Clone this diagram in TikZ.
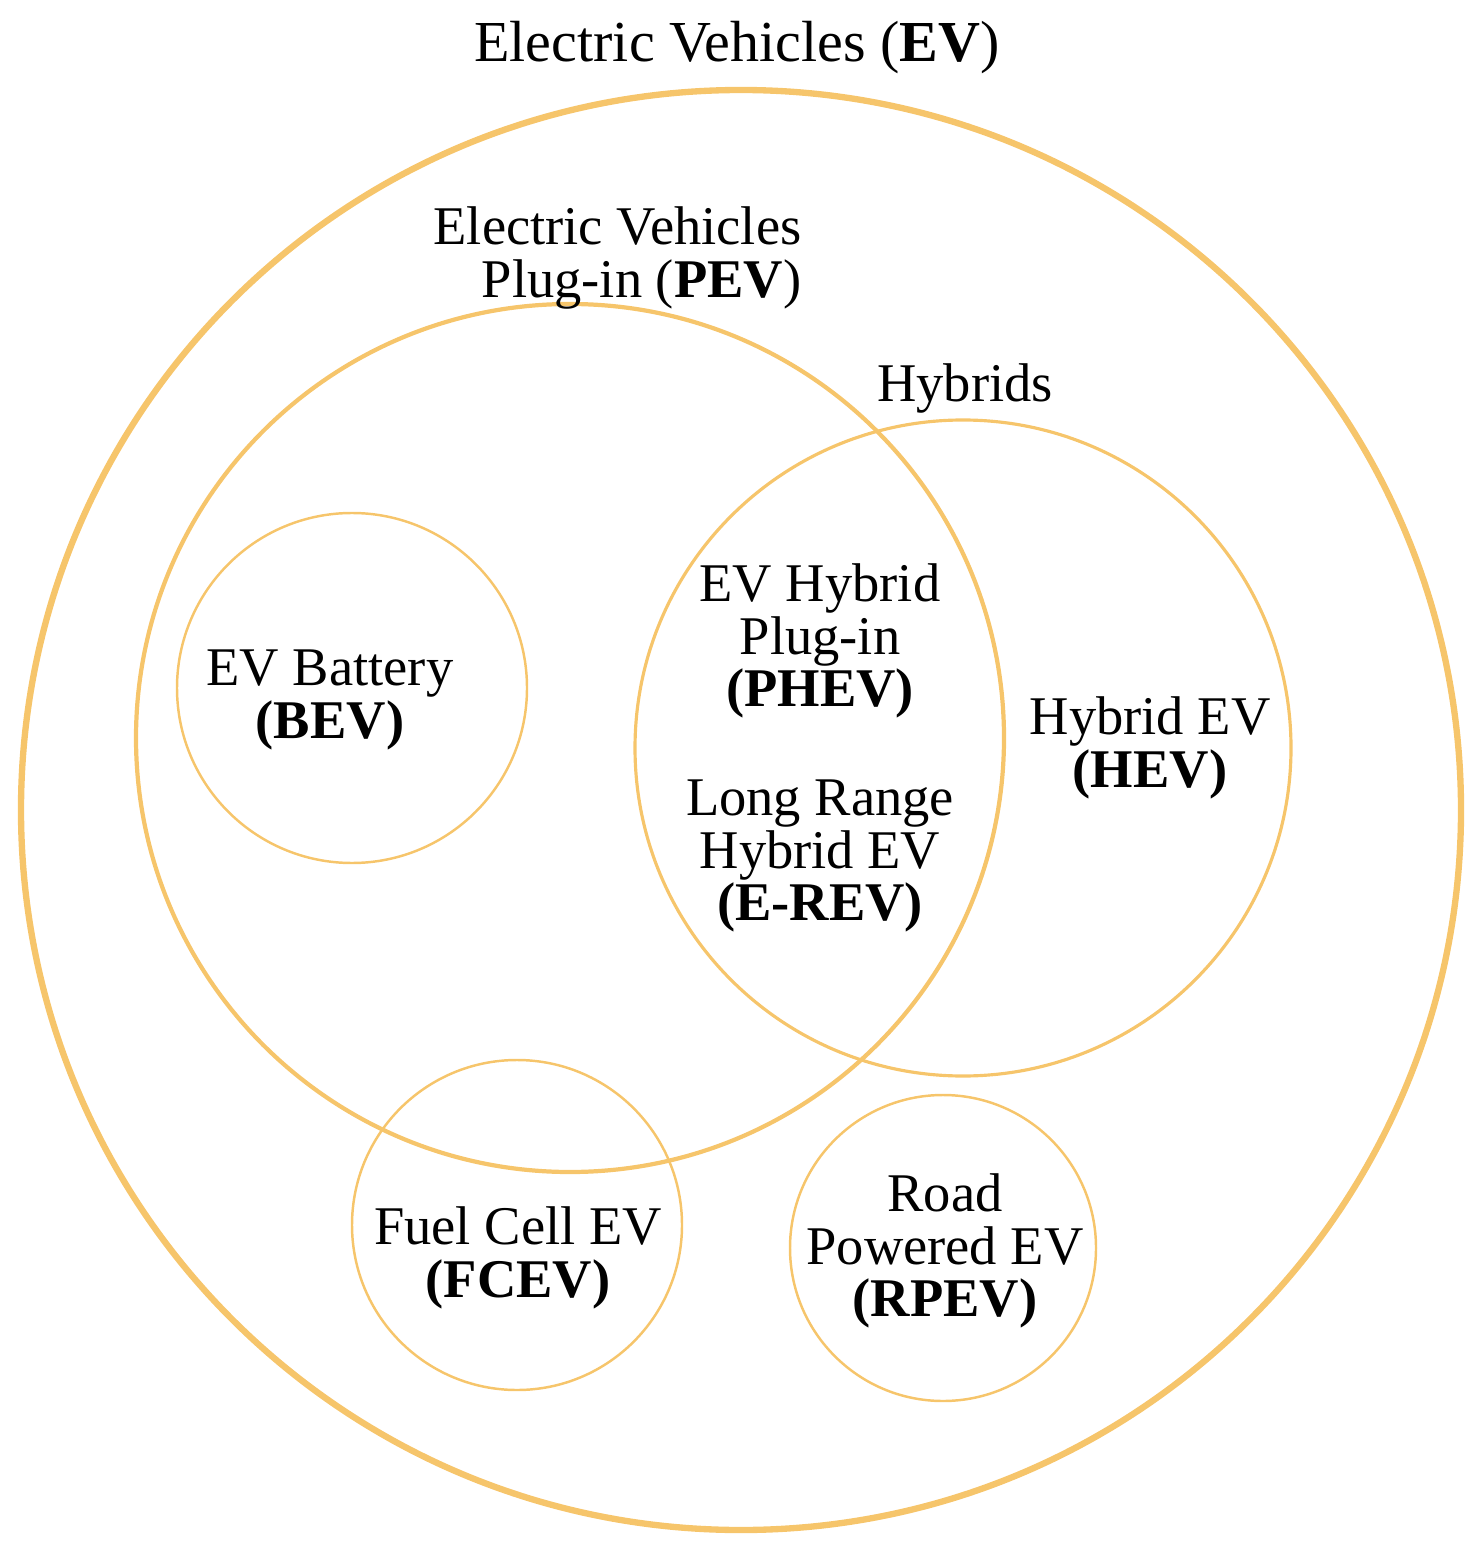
\documentclass[tikz,border=0pt]{standalone}
\usepackage{fontspec}
\setmainfont{Liberation Serif}
\definecolor{gold}{HTML}{F6C56B}
\begin{document}
\begin{tikzpicture}[x=0.01cm,y=-0.01cm,
  ring/.style={draw=gold},
  lbl/.style={align=center,font=\fontsize{15.5}{15}\selectfont,inner sep=0pt}]
\useasboundingbox (0,0) rectangle (1474,1543);
\draw[ring,line width=1.8pt] (741,810) circle (720);
\draw[ring,line width=1.2pt] (570,738) circle (434);
\draw[ring,line width=0.9pt] (963,748) circle (328);
\draw[ring,line width=0.7pt] (352,688) circle (175);
\draw[ring,line width=0.7pt] (517,1225) circle (165);
\draw[ring,line width=0.7pt] (943,1248) circle (153);
\node[lbl,font=\fontsize{16.5}{16}\selectfont] (ev) at (737,48) {Electric Vehicles (\textbf{EV})};
\node[lbl,align=right,anchor=east] (pev) at (802,258) {Electric Vehicles\\Plug-in (\textbf{PEV})};
\node[lbl] (hyb) at (965,388) {Hybrids};
\node[lbl] (bev) at (330,700) {EV Battery\\\textbf{(BEV)}};
\node[lbl] (phev) at (820,641) {EV Hybrid\\Plug-in\\\textbf{(PHEV)}};
\node[lbl] (erev) at (820,856) {Long Range\\Hybrid EV\\\textbf{(E-REV)}};
\node[lbl] (hev) at (1150,748) {Hybrid EV\\\textbf{(HEV)}};
\node[lbl] (fcev) at (518,1258) {Fuel Cell EV\\\textbf{(FCEV)}};
\node[lbl] (rpev) at (945,1251) {Road\\Powered EV\\\textbf{(RPEV)}};
\end{tikzpicture}
\end{document}
